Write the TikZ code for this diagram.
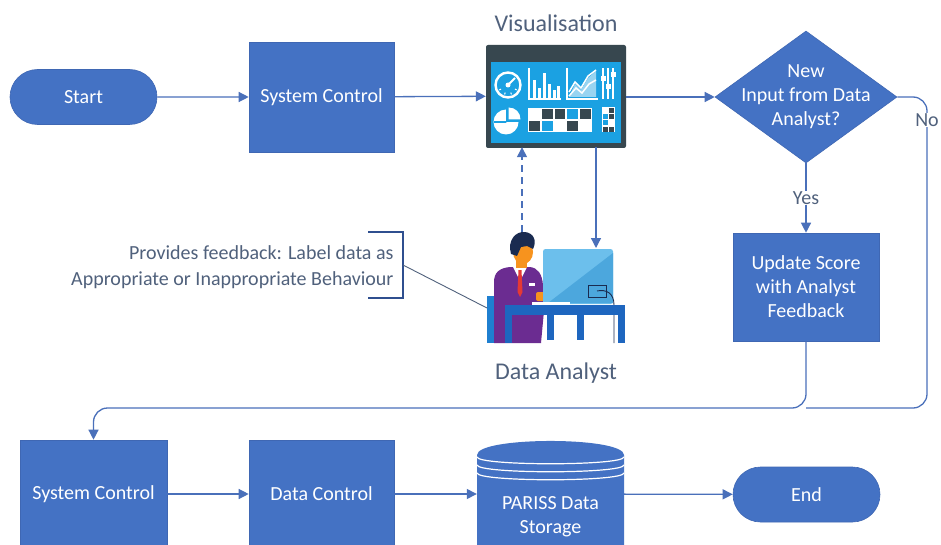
\documentclass[tikz,border=0pt]{standalone}
\usepackage{fontspec}
\setmainfont{Carlito}
\usetikzlibrary{shapes.geometric,shapes.misc,arrows.meta,calc}

\definecolor{boxblue}{HTML}{4472C4}
\definecolor{boxedge}{HTML}{3F67B3}
\definecolor{linecol}{HTML}{4A70BA}
\definecolor{textgray}{HTML}{50617C}
\definecolor{bracketcol}{HTML}{2F4F8F}
\definecolor{dashdark}{HTML}{37474F}
\definecolor{dashcyan}{HTML}{1BA1E2}
\definecolor{suit}{HTML}{6B2C91}
\definecolor{skin}{HTML}{F7931E}
\definecolor{hair}{HTML}{1A2B50}
\definecolor{tie}{HTML}{E53935}
\definecolor{chair}{HTML}{1F7FD0}
\definecolor{desk}{HTML}{1E66BF}
\definecolor{screenlight}{HTML}{6CBFEC}
\definecolor{screendark}{HTML}{4CA7DD}

\tikzset{
  conn/.style={draw=linecol, line width=1.3pt, -{Triangle[length=10pt,width=10pt]}},
  plainline/.style={draw=linecol, line width=1.3pt},
  proc/.style={rectangle, fill=boxblue, draw=boxedge, line width=0.6pt, text=white,
    font=\fontsize{20}{24}\selectfont, align=center, inner sep=0pt},
  term/.style={rounded rectangle, fill=boxblue, draw=boxedge, line width=0.6pt, text=white,
    font=\fontsize{20}{24}\selectfont, minimum width=147pt, minimum height=55pt, inner sep=0pt},
  ghost/.style={rectangle, draw=none, inner sep=0pt},
  caption/.style={text=textgray, font=\fontsize{24}{28}\selectfont},
  notetext/.style={text=textgray, font=\fontsize{20}{26}\selectfont, align=right},
  edgelabel/.style={fill=white, text=textgray, font=\fontsize{20}{24}\selectfont, inner sep=1pt},
}

\begin{document}
\begin{tikzpicture}[x=1pt,y=-1pt]
\useasboundingbox (0,0) rectangle (941,545);
\fill[white] (0,0) rectangle (941,545);

% ---------- top row ----------
\node[term] (start) at (83.5,97) {Start};
\node[proc, minimum width=145pt, minimum height=110pt] (sc1) at (321.5,97) {System Control};
\node[ghost, minimum width=140pt, minimum height=102pt] (dash) at (556,96) {};
\node[caption] (vislabel) at (556,23) {Visualisation};
\node[diamond, fill=boxblue, draw=boxedge, line width=0.6pt, minimum width=182pt,
      minimum height=132pt, inner sep=0pt] (dec) at (806,97) {};
\node[text=white, font=\fontsize{20}{24}\selectfont, align=center] (declabel) at (806,97)
      {New\\Input from Data\\Analyst?};
\node[proc, minimum width=146pt, minimum height=108pt] (upd) at (806,287)
      {Update Score\\with Analyst\\Feedback};

% ---------- dashboard icon ----------
\fill[dashdark, rounded corners=2pt] (486,45) rectangle (626,148);
\fill[dashcyan] (491,62) rectangle (621,143);
% gauge
\draw[white, line width=2.4pt] (508,85) circle [radius=12.5];
\foreach \a in {150,110,70,30} {
  \draw[white, line width=1pt] ($(508,85)+(\a:8)$) -- ($(508,85)+(\a:10)$);
}
\draw[white, line width=2pt] (508,85) -- (515,78);
\fill[white] (508,85) circle [radius=2.5];
% bar chart
\draw[white, line width=1.4pt] (529,68) -- (529,99) -- (561,99);
\foreach \bx/\by in {533/80, 538/88, 543/73, 548/84, 553/90, 557/86} {
  \fill[white] (\bx,\by) rectangle ++(3,{99-\by});
}
% line chart
\draw[white, line width=1.4pt] (567,68) -- (567,99) -- (598,99);
\fill[white, opacity=0.55] (569,97) -- (575,84) -- (581,90) -- (588,78) -- (596,71) -- (596,97) -- cycle;
\draw[white, line width=1.5pt] (569,92) -- (575,82) -- (581,88) -- (588,76) -- (596,70);
\draw[white, line width=1.5pt] (569,96) -- (576,88) -- (582,93) -- (589,84) -- (596,80);
% sliders
\foreach \sx/\sy in {603/76, 608/84, 613/72} {
  \draw[white, line width=1.6pt] (\sx,68) -- (\sx,99);
  \fill[white] ({\sx-2.5},\sy) rectangle ({\sx+2.5},{\sy+5});
}
% pie chart with one slice pulled out
\fill[white] (506,122) circle [radius=12.5];
\fill[dashcyan] (506,122) rectangle (519,109);
\draw[dashcyan, line width=1.2pt] (506,122) -- ($(506,122)+(-40:12.5)$);
\draw[dashcyan, line width=1.2pt] (506,122) -- (493.5,122);
\fill[white] (508.5,119.5) -- (508.5,107.5) .. controls (515.5,107.5) and (520.5,112.5) .. (520.5,119.5) -- cycle;
% square grid
\fill[white] (528,108) rectangle (592,132);
\foreach \col/\row/\c in {1/0/dashdark, 2/0/dashdark, 3/0/dashcyan, 4/0/dashdark,
                         0/1/dashdark, 1/1/dashcyan, 3/1/dashdark} {
  \fill[\c] ({529+12.8*\col},{109+12*\row}) rectangle ++(10.8,10);
}
% small grid
\fill[white] (602,107) rectangle (615,132);
\foreach \col/\row/\c in {1/0/dashdark, 0/1/dashcyan, 1/1/dashdark, 0/2/dashcyan, 0/3/dashdark, 1/3/dashdark} {
  \fill[\c] ({603+6.3*\col},{108+6.2*\row}) rectangle ++(5,5);
}

% ---------- data analyst figure ----------
\node[ghost, minimum width=138pt, minimum height=113pt] (analyst) at (556,288.5) {};
\node[caption] (anlabel) at (556,373) {Data Analyst};
% chair back
\fill[chair] (487,296) rectangle (497,343);
% body
\fill[suit] (494,343) -- (494,282) .. controls (494,272) and (500,268) .. (510,267)
  -- (530,267) .. controls (538,268) and (542,274) .. (543,285) -- (545,300) -- (541,343) -- cycle;
\fill[white] (513,267) -- (527,267) -- (520,281) -- cycle;
\fill[tie] (518.5,270) -- (521.5,270) -- (522.5,292) -- (520,297) -- (517.5,292) -- cycle;
\fill[white] (529,283) rectangle (535,286);
% head and hair
\fill[skin] (516,258) rectangle (527,268);
\fill[skin] (523,252) ellipse [x radius=10, y radius=12];
\fill[hair] (511,254) .. controls (507,240) and (516,231) .. (525,232)
  .. controls (534,233) and (537,241) .. (533,249) -- (527,246) -- (521,247) -- (517,256) -- cycle;
% hand
\fill[skin, rounded corners=2pt] (536,292) rectangle (547,301);
% monitor
\fill[screenlight, rounded corners=2.5pt] (543,249) rectangle (613,304);
\fill[screendark] (613,253) -- (613,303) -- (548,303) -- cycle;
\draw[hair, line width=0.9pt] (588,285) rectangle (606,297);
\draw[hair, line width=0.9pt] (597,291) .. controls (606,289) and (614,293) .. (614,305) -- (614,343);
% keyboard and desk
\fill[white] (532,302) rectangle (570,305);
\fill[desk] (505,305) rectangle (625,315);
\foreach \lx/\ly in {505/343, 547/340, 577/340, 618/343} {
  \fill[desk] (\lx,315) rectangle ({\lx+7},\ly);
}

% ---------- annotation ----------
\node[notetext, anchor=east] (note) at (397,267)
  {Provides feedback: Label data as\\Appropriate or Inappropriate Behaviour};
\draw[bracketcol, line width=1.5pt] (368,232) -- (403,232) -- (403,298) -- (368,298);
\coordinate (brk) at (403,265);
\coordinate (seat) at (487,308);
\draw[textgray, line width=0.9pt] (brk) -- (seat);

% ---------- bottom row ----------
\node[proc, minimum width=147pt, minimum height=108pt] (sc2) at (93.5,494) {System Control};
\node[proc, minimum width=145pt, minimum height=108pt] (dc) at (321.5,494) {Data Control};
\node[ghost, minimum width=147pt, minimum height=108pt] (store) at (550.5,494) {};
\fill[boxblue] (477,455) .. controls (477,436.3) and (624,436.3) .. (624,455)
  -- (624,548) -- (477,548) -- cycle;
\foreach \d in {0,8,16} {
  \draw[white, line width=1.2pt] (477,{457+\d}) .. controls (478,{466+\d}) and (623,{466+\d}) .. (624,{457+\d});
}
\node[text=white, font=\fontsize{20}{24}\selectfont, align=center] (storelabel) at (550.5,516.5)
  {PARISS Data\\Storage};
\node[term] (stop) at (806.5,494.5) {End};

% ---------- connectors ----------
\draw[conn] (start) -- (sc1);
\draw[conn] (sc1) -- (dash);
\draw[conn] (dash.east |- dec.west) -- (dec.west);
\draw[conn] (dec.south) -- (upd.north) node[edgelabel, midway] (yes) {Yes};

\coordinate (hairtop) at (522,232);
\coordinate (montop) at (596,248);
\draw[conn, dashed, dash pattern=on 7pt off 5pt] (hairtop) -- (hairtop |- dash.south);
\draw[conn] (montop |- dash.south) -- (montop);

\coordinate (loopR) at (927,408);
\coordinate (loopL) at (93.5,408);
\draw[plainline, rounded corners=14pt] (dec.east) -| (loopR) -- (upd.south |- loopR);
\node[edgelabel] (no) at (927,120) {No};
\draw[conn, rounded corners=14pt] (upd.south) |- (loopL) -- (sc2.north);

\draw[conn] (sc2) -- (dc);
\draw[conn] (dc) -- (store);
\draw[conn] (store) -- (stop);
\end{tikzpicture}
\end{document}
